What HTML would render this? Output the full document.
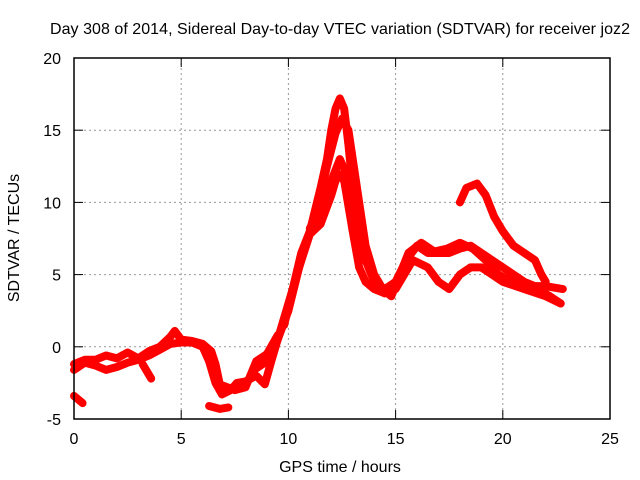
<!DOCTYPE html>
<html><head><meta charset="utf-8"><style>
body{margin:0;background:#fff}
svg{display:block;font-family:"Liberation Sans",sans-serif}
</style></head><body>
<svg id="chart" width="640" height="480">
<text x="340" y="34" font-size="16" text-anchor="middle" textLength="580">Day 308 of 2014, Sidereal Day-to-day VTEC variation (SDTVAR) for receiver joz2</text>
<text x="340" y="472" font-size="16" text-anchor="middle">GPS time / hours</text>
<text transform="translate(19,238) rotate(-90)" font-size="16" text-anchor="middle">SDTVAR / TECUs</text>
<g id="grid"></g><g id="ticks"></g><g id="series"></g>
<rect x="74" y="58" width="536" height="361" fill="none" stroke="#000" stroke-width="1.5"/>
</svg>
<script>
const xTicks=[0,5,10,15,20,25];
const yTicks=[-5,0,5,10,15,20];
const s1=[[0,-1.6],[0.5,-1.1],[1,-1.3],[1.5,-1.6],[2,-1.4],[2.5,-1.1],[3,-0.9],[3.5,-0.6],[4,-0.2],[4.5,0.2],[5,0.3],[5.5,0.3],[6,0],[6.3,-1],[6.6,-2.5],[6.9,-3.3],[7.3,-3.0],[7.6,-2.5],[8,-2.4],[8.5,-2],[8.9,-2.6],[9.2,-1.0],[9.6,1.0],[10,3],[10.5,5.5],[11,7.8],[11.5,8.5],[12,10.5],[12.3,12],[12.6,11.5],[13,8],[13.3,5.5],[13.6,4.5],[14,4],[14.5,3.7],[15,4.0],[15.4,5],[15.8,6],[16.5,5.5],[17,4.5],[17.5,4.0],[18,5],[18.5,5.5],[19,5.5],[19.5,5],[20,4.5],[21,4],[22,3.5],[22.7,3]];
const s2=[[0,-1.2],[0.5,-0.9],[1,-0.9],[1.5,-0.6],[2,-0.8],[2.5,-0.4],[3,-0.8],[3.5,-0.3],[4,0],[4.5,0.7],[4.7,1.1],[5,0.5],[5.5,0.4],[6,0.2],[6.4,-0.3],[6.6,-1.2],[6.8,-2.6],[7.5,-3],[8,-2.8],[8.5,-1],[9,-0.5],[9.5,0.8]];
const s3=[[8.5,-1.5],[9,-1],[9.5,0.5],[10,2.5],[10.5,5.5],[11,8],[11.5,11],[11.8,13],[12,15],[12.2,16.5],[12.4,17.2],[12.6,16.5],[12.8,14],[13,11],[13.3,8],[13.6,6],[14,4.5],[14.5,4],[15,4.5],[15.5,6],[16,7],[16.5,6.5],[17,6.5],[17.5,6.5],[18,6.8],[18.5,7],[19,6.5],[19.5,6],[20,5.5],[20.5,5],[21,4.5],[21.5,4.2],[22,4.2],[22.8,4]];
const s4=[[9.8,1.5],[10.2,4],[10.6,6.5],[11,8],[11.4,10],[11.8,12.5],[12.2,14.8],[12.5,15.8],[12.8,15],[13,13],[13.3,10],[13.6,7],[14,5],[14.4,4],[14.8,3.5],[15.2,5],[15.6,6.5],[16.2,7.2],[16.8,6.6],[17.4,6.8],[18,7.2],[18.6,6.8],[19.2,6],[19.8,5],[20.4,4.5],[21,4.2],[21.6,4],[22.2,3.5],[22.7,3]];
const s5=[[18,10],[18.3,11],[18.8,11.3],[19.2,10.5],[19.6,9],[20,8],[20.5,7],[21,6.5],[21.5,6],[21.8,5],[22,4.5]];
const s6=[[11,8.2],[11.5,9.5],[12,11.5],[12.4,13],[12.7,12],[13,9],[13.3,7],[13.6,6],[13.9,5],[14.2,4.5]];
const s7=[[0,-3.4],[0.4,-3.9]];
const s8=[[6.3,-4.1],[6.8,-4.3],[7.2,-4.2]];
const s9=[[3.2,-1.2],[3.6,-2.2]];
const allSeries=[s1,s2,s3,s4,s5,s6,s7,s8,s9];
const X=h=>74+h*536/25, Y=v=>58+(20-v)*361/25;
const NS="http://www.w3.org/2000/svg";
const g=document.getElementById('grid'),t=document.getElementById('ticks'),sg=document.getElementById('series');
function mk(tag,attrs,parent){const e=document.createElementNS(NS,tag);for(const k in attrs)e.setAttribute(k,attrs[k]);parent.appendChild(e);return e;}
xTicks.forEach(v=>{
  if(v>0&&v<25){const l=mk('line',{x1:X(v),x2:X(v),y1:58,y2:419,stroke:'#999','stroke-dasharray':'2,3'},g);
  
  }
  mk('line',{x1:X(v),x2:X(v),y1:419,y2:410,stroke:'#000'},t);
  mk('line',{x1:X(v),x2:X(v),y1:58,y2:67,stroke:'#000'},t);
  const tx=mk('text',{x:X(v),y:444,'font-size':16,'text-anchor':'middle'},t);tx.textContent=v;
  
  
});
yTicks.forEach(v=>{
  if(v>-5&&v<20){const l=mk('line',{x1:74,x2:610,y1:Y(v),y2:Y(v),stroke:'#999','stroke-dasharray':'2,3'},g);
  
  }
  mk('line',{x1:74,x2:83,y1:Y(v),y2:Y(v),stroke:'#000'},t);
  mk('line',{x1:601,x2:610,y1:Y(v),y2:Y(v),stroke:'#000'},t);
  const tx=mk('text',{x:61,y:Y(v)+6,'font-size':16,'text-anchor':'end'},t);tx.textContent=v;
  
  
});
allSeries.forEach((s,i)=>{
  const p=mk('polyline',{points:s.map(d=>X(d[0])+','+Y(d[1])).join(' '),fill:'none',stroke:'#f00','stroke-width':8,'stroke-linejoin':'round','stroke-linecap':'round'},sg);
  
  
});
</script>
</body></html>
